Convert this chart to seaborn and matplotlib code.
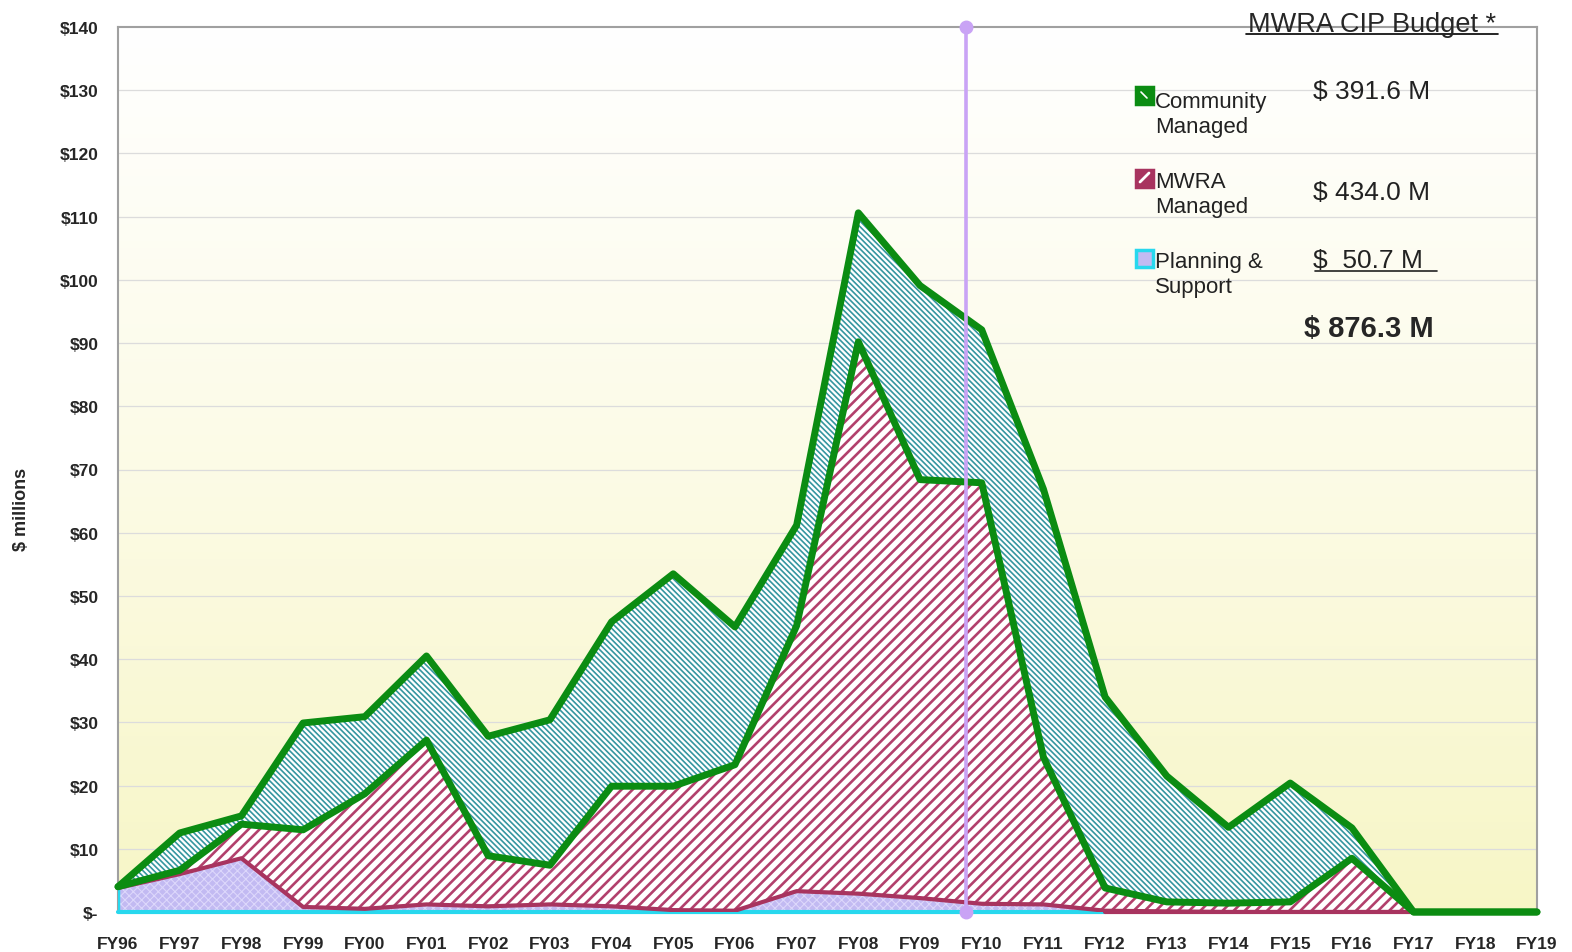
import numpy as np
import pandas as pd
import matplotlib.pyplot as plt
import matplotlib.lines as mlines
import matplotlib.patches as mpatches
from matplotlib.colors import LinearSegmentedColormap
import seaborn as sns

# --- Data ($ millions) ---
years = ['FY96', 'FY97', 'FY98', 'FY99', 'FY00', 'FY01', 'FY02', 'FY03', 'FY04', 'FY05',
         'FY06', 'FY07', 'FY08', 'FY09', 'FY10', 'FY11', 'FY12', 'FY13', 'FY14', 'FY15',
         'FY16', 'FY17', 'FY18', 'FY19']
planning = [3.8, 6.0, 8.5, 0.8, 0.5, 1.2, 0.9, 1.2, 0.9, 0.3, 0.2, 3.3, 2.9, 2.2, 1.3, 1.2,
            0.2, 0.1, 0, 0, 0, 0, 0, 0]
mwra = [0.2, 0.6, 5.4, 12.2, 18.2, 26.0, 8.0, 6.2, 19.0, 19.6, 23.1, 42.0, 87.3, 66.2, 66.6,
        23.3, 3.6, 1.5, 1.4, 1.6, 8.5, 0, 0, 0]
community = [0.0, 5.9, 1.3, 16.9, 12.2, 13.3, 18.9, 23.0, 26.0, 33.6, 21.8, 15.9, 20.4, 30.7,
             24.2, 42.4, 30.2, 19.9, 12.0, 18.8, 4.8, 0, 0, 0]
y_ticks = [0, 10, 20, 30, 40, 50, 60, 70, 80, 90, 100, 110, 120, 130, 140]
y_tick_labels = ['$-'] + ['$%d' % v for v in y_ticks[1:]]
budget_labels = [['Community', 'Managed'], ['MWRA', 'Managed'], ['Planning &', 'Support']]
budget_values = ['$ 391.6 M', '$ 434.0 M', '$  50.7 M']
budget_total = '$ 876.3 M'
current_position = 13.74  # vertical marker, between FY09 and FY10

df = pd.DataFrame({'year': years, 'planning': planning, 'mwra': mwra, 'community': community})
df['x'] = np.arange(len(df))
df['p_top'] = df['planning']
df['m_top'] = df['p_top'] + df['mwra']
df['c_top'] = df['m_top'] + df['community']
df['zero'] = 0.0

GREEN = '#0b8c12'
TEAL = '#3596a0'
MAROON = '#a8345f'
HATCH_MAROON = '#b2406c'
CYAN = '#28d8ee'
LAVENDER = '#c2baf2'
MARKER = '#c9a3f5'

sns.set_style('white')
plt.rcParams['font.family'] = ['Liberation Sans', 'DejaVu Sans']

fig = plt.figure(figsize=(15.72, 9.53), dpi=100)
W, H = 1572, 953
ax = fig.add_axes([118 / W, 1 - 913 / H, (1537 - 118) / W, (913 - 28) / H])

# background gradient inside the plot area
grad_cmap = LinearSegmentedColormap.from_list('bg', ['#ffffff', '#fcfbe6', '#f7f6c6'])
ax.imshow(np.linspace(0, 1, 256).reshape(-1, 1), cmap=grad_cmap, aspect='auto',
          extent=[0, len(years) - 1, 0, 140], zorder=0)

ax.set_xlim(0, len(years) - 1)
ax.set_ylim(0, 140)
for v in y_ticks[1:-1]:
    ax.axhline(v, color='#dcdcdc', lw=0.9, zorder=0.5)

x = df['x'].values
# hatched fills
with plt.rc_context({'hatch.linewidth': 0.8}):
    ax.fill_between(x, 0, df['p_top'], facecolor=LAVENDER, edgecolor='#dcd7fb',
                    hatch='xxxx', lw=0, zorder=1)
with plt.rc_context({'hatch.linewidth': 1.9}):
    ax.fill_between(x, df['p_top'], df['m_top'], facecolor='white', edgecolor=HATCH_MAROON,
                    hatch='///', lw=0, zorder=1)
with plt.rc_context({'hatch.linewidth': 1.2}):
    ax.fill_between(x, df['m_top'], df['c_top'], facecolor='white', edgecolor=TEAL,
                    hatch='\\' * 6, lw=0, zorder=1)

# outlines
ax.plot([0, 0], [0, planning[0]], color=CYAN, lw=2.5, zorder=2.6)
ax.plot([0, 16.0], [0, 0], color=CYAN, lw=3, zorder=2.6, clip_on=False)
sns.lineplot(data=df, x='x', y='p_top', color=MAROON, lw=3, ax=ax, zorder=3)
sns.lineplot(data=df[df['x'] >= 16], x='x', y='zero', color=MAROON, lw=3, ax=ax, zorder=3,
             clip_on=False)
sns.lineplot(data=df, x='x', y='m_top', color=GREEN, lw=5, ax=ax, zorder=4, clip_on=False)
sns.lineplot(data=df, x='x', y='c_top', color=GREEN, lw=5, ax=ax, zorder=4, clip_on=False)

# current-year marker
ax.plot([current_position, current_position], [0, 140], color=MARKER, lw=2.6, zorder=5,
        marker='o', ms=9, clip_on=False)

# axes styling
ax.set_xticks(x)
ax.set_xticklabels(years, fontsize=12.5, fontweight='bold')
ax.set_yticks(y_ticks)
ax.set_yticklabels(y_tick_labels, fontsize=12.5, fontweight='bold')
ax.tick_params(axis='y', direction='out', length=3, color='#999999', pad=11)
ax.tick_params(axis='x', direction='in', length=5, color='#cccccc', pad=17)
for s in ax.spines.values():
    s.set_color('#a0a0a0')
    s.set_linewidth(1.5)
ax.set_xlabel('')
ax.set_ylabel('$ millions', fontsize=13, fontweight='bold')
ax.yaxis.set_label_coords((30 - 118) / 1419, (913 - 509) / 885)


def fx(px):
    return px / W


def fy(py):
    return 1 - py / H


# legend / budget block
fig.text(fx(1248), fy(32), 'MWRA CIP Budget *', fontsize=19.5, va='baseline', ha='left')
fig.add_artist(mlines.Line2D([fx(1246), fx(1498)], [fy(35), fy(35)], color='black', lw=1.2))

square_tops = [88, 171, 251]
label_baselines = [(108, 133), (188, 213), (268, 293)]
value_baselines = [99, 200, 268]
square_styles = [dict(facecolor=GREEN, edgecolor=GREEN),
                 dict(facecolor=MAROON, edgecolor=MAROON),
                 dict(facecolor=LAVENDER, edgecolor=CYAN)]
for i in range(3):
    top = square_tops[i]
    fig.add_artist(mpatches.Rectangle((fx(1136), fy(top + 17)), 17 / W, 17 / H,
                                      lw=2.5, transform=fig.transFigure, **square_styles[i]))
    fig.text(fx(1155), fy(label_baselines[i][0]), budget_labels[i][0], fontsize=16,
             va='baseline', ha='left', color='#222222')
    fig.text(fx(1155), fy(label_baselines[i][1]), budget_labels[i][1], fontsize=16,
             va='baseline', ha='left', color='#222222')
    fig.text(fx(1313), fy(value_baselines[i]), budget_values[i], fontsize=19,
             va='baseline', ha='left', color='#222222')
# small white glyphs inside the first two legend squares
fig.add_artist(mlines.Line2D([fx(1141), fx(1147)], [fy(93), fy(99)], color='white', lw=1.2))
fig.add_artist(mlines.Line2D([fx(1140), fx(1149)], [fy(183), fy(174)], color='white', lw=2))
fig.add_artist(mlines.Line2D([fx(1315), fx(1437)], [fy(272), fy(272)], color='#222222', lw=1.2))
fig.text(fx(1304), fy(337), budget_total, fontsize=21, fontweight='bold', va='baseline',
         ha='left')

fig.savefig('out.png', dpi=100)
